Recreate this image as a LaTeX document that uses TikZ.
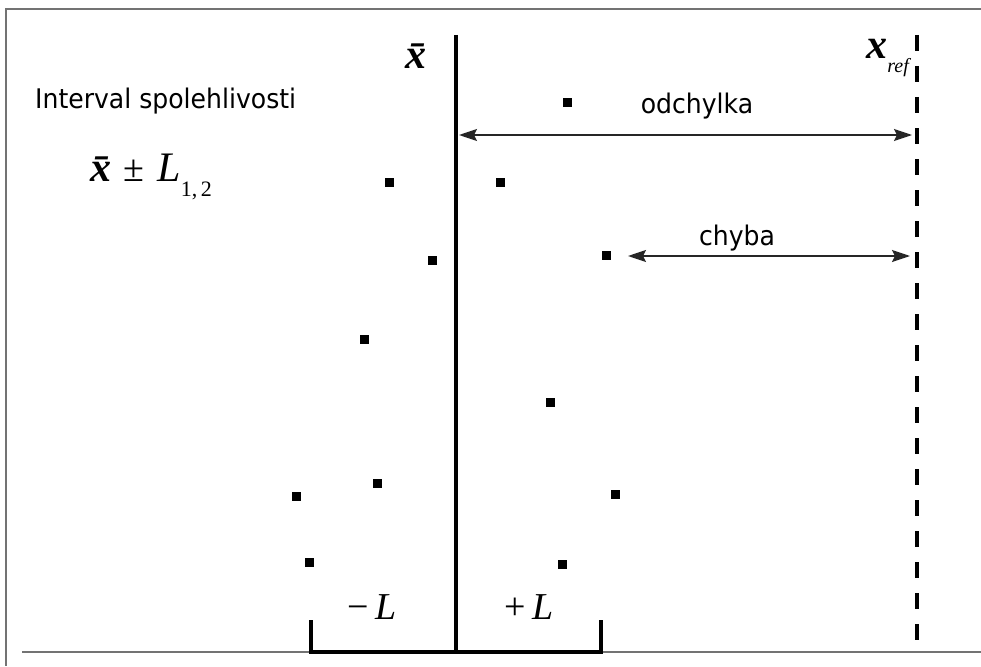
\documentclass[tikz,border=0pt]{standalone}
\usepackage{fontspec}
\usetikzlibrary{arrows.meta}
\newfontfamily\labfont[FakeStretch=0.93]{DejaVu Sans}
\newfontfamily\mfont{Liberation Serif}
\begin{document}
\begin{tikzpicture}[x=1pt,y=-1pt,
  frame/.style={draw=black!55,line width=2pt},
  pt/.style={fill=black,minimum size=9pt,inner sep=0pt,outer sep=0pt},
  meanline/.style={line width=3.6pt},
  refline/.style={line width=3.6pt,dash pattern=on 16pt off 15pt},
  brk/.style={line width=3.6pt},
  dimarrow/.style={draw=black!85,line width=1.8pt,{Stealth[length=18pt,width=12pt,inset=3pt]}-{Stealth[length=18pt,width=12pt,inset=3pt]}},
  lab/.style={font=\labfont\fontsize{27}{30}\selectfont,inner sep=0pt},
  mth/.style={font=\mfont\fontsize{38}{42}\selectfont,inner sep=0pt}
]
\useasboundingbox (0,0) rectangle (981,666);
\fill[white] (0,0) rectangle (981,666);
% frame
\coordinate (ftl) at (6,9);
\coordinate (ftr) at (981,9);
\coordinate (fbl) at (6,666);
\coordinate (bl) at (22,652);
\coordinate (br) at (981,652);
\draw[frame] (ftr) -- (ftl) -- (fbl);
\draw[frame] (bl) -- (br);
% mean and reference lines
\coordinate (mtop) at (456,35);
\coordinate (mbot) at (456,652);
\coordinate (rtop) at (917,35);
\coordinate (rbot) at (917,652);
\draw[meanline] (mtop) -- (mbot);
\draw[refline] (rtop) -- (rbot);
% bracket
\coordinate (bkl) at (311,620);
\coordinate (bkr) at (601,620);
\draw[brk,line join=miter] (bkl) -- (311,652) -- (601,652) -- (bkr);
% points
\node[pt] (p1) at (567,103) {};
\node[pt] (p2) at (389,182) {};
\node[pt] (p3) at (500,182) {};
\node[pt] (p4) at (432,260) {};
\node[pt] (p5) at (606,255) {};
\node[pt] (p6) at (364,339) {};
\node[pt] (p7) at (550,402) {};
\node[pt] (p8) at (377,483) {};
\node[pt] (p9) at (296,496) {};
\node[pt] (p10) at (615,494) {};
\node[pt] (p11) at (309,562) {};
\node[pt] (p12) at (562,564) {};
% arrows
\coordinate (a1l) at (459,135);
\coordinate (a1r) at (912,135);
\coordinate (a2l) at (628,256);
\coordinate (a2r) at (910,256);
\draw[dimarrow] (a1l) -- (a1r);
\draw[dimarrow] (a2l) -- (a2r);
% labels
\node[lab] (odch) at (697,106) {odchylka};
\node[lab] (chyba) at (737,238) {chyba};
\node[lab,anchor=west] (interval) at (35,101) {Interval spolehlivosti};
\node[mth] (xbar) at (416,56) {\fontsize{42}{44}\selectfont\bfseries\itshape \=x};
\node[mth,anchor=east] (xref) at (909,58) {{\fontsize{42}{44}\selectfont\bfseries\itshape x}\raisebox{-0.35em}{\itshape\fontsize{20}{22}\selectfont ref}};
\node[mth,anchor=west] (ci) at (90,177) {{\fontsize{42}{44}\selectfont\bfseries\itshape \=x}\,\,±\,\,{\fontsize{42}{44}\selectfont\textit{L}}\raisebox{-0.4em}{\fontsize{22}{24}\selectfont 1,\,2}};
\node[mth] (mL) at (372,607) {−\,\textit{L}};
\node[mth] (pL) at (529,607) {+\,\textit{L}};
\end{tikzpicture}
\end{document}
